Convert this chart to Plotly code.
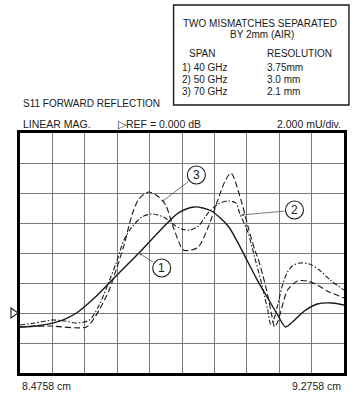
import plotly.graph_objects as go

# ---- data (x in cm, y in mU; REF line = 0) ----
x_start_cm = 8.4758
x_end_cm = 9.2758
cm_per_div = 0.08
mu_per_div = 2.0
y_bottom = -4.0
y_top = 12.0

# Curve 1: 40 GHz span (solid)
x1 = [8.4758, 8.5247, 8.5810, 8.6152, 8.6593, 8.6960, 8.7205, 8.7694, 8.8183, 8.8672,
      8.9064, 8.9480, 8.9896, 9.0140, 9.0385, 9.0630, 9.0874, 9.1119, 9.1314, 9.1486,
      9.1780, 9.2098, 9.2464, 9.2758]
y1 = [-0.93, -0.83, -0.47, 0.0, 1.0, 2.0, 2.67, 4.0, 5.4, 6.67,
      7.07, 6.8, 5.8, 4.67, 3.4, 2.13, 1.0, -0.13, -0.93, -0.6,
      0.13, 0.6, 0.67, 0.53]

# Curve 2: 50 GHz span (dash-dot)
x2 = [8.4758, 8.5125, 8.5565, 8.5859, 8.6152, 8.6471, 8.6715, 8.6960, 8.7131, 8.7327,
      8.7522, 8.7767, 8.8012, 8.8305, 8.8501, 8.8746, 8.8966, 8.9162, 8.9406, 8.9651,
      8.9896, 9.0091, 9.0189, 9.0385, 9.0556, 9.0703, 9.0801, 9.0874, 9.0948, 9.1021,
      9.1119, 9.1241, 9.1364, 9.1486, 9.1657, 9.1902, 9.2147, 9.2416, 9.2758]
y2 = [-0.8, -0.67, -0.47, -0.53, -0.67, -0.47, 0.53, 2.13, 3.33, 4.87,
      5.73, 6.4, 6.6, 6.4, 6.0, 5.6, 5.53, 5.8, 6.67, 7.27,
      7.47, 7.33, 6.6, 5.4, 3.67, 2.2, 1.07, 0.2, -0.73, -0.47,
      0.53, 1.87, 2.73, 3.13, 3.33, 3.27, 2.87, 2.2, 1.53]

# Curve 3: 70 GHz span (dashed)
x3 = [8.4758, 8.5492, 8.6397, 8.6593, 8.6715, 8.6960, 8.7131, 8.7327, 8.7522, 8.7694,
      8.7938, 8.8183, 8.8354, 8.8550, 8.8795, 8.8990, 8.9162, 8.9406, 8.9651, 8.9822,
      8.9969, 9.0214, 9.0385, 9.0556, 9.0630, 9.0752, 9.0874, 9.0972, 9.1046, 9.1119,
      9.1241, 9.1364, 9.1608, 9.1853, 9.2098, 9.2342, 9.2758]
y3 = [-0.93, -0.87, -0.93, -0.33, 0.2, 1.53, 2.87, 4.53, 6.53, 7.6,
      8.07, 7.73, 7.2, 5.67, 4.2, 4.2, 4.4, 5.73, 7.6, 8.8,
      9.33, 7.53, 5.8, 4.2, 3.67, 2.53, 1.2, -0.13, -0.93, -0.6,
      0.53, 1.53, 2.13, 2.13, 1.87, 1.47, 1.0]

span_labels = ["1) 40 GHz", "2) 50 GHz", "3) 70 GHz"]
resolution_labels = ["3.75mm", "3.0 mm", "2.1 mm"]

# ---- figure geometry (pixels) ----
W, H = 359, 398
L, R, T, B = 20, 347, 133, 373


def px(p):
    return (p - L) / (R - L)


def py(p):
    return (B - p) / (B - T)


FONT = "Liberation Sans, Arial, sans-serif"
INK = "#1a1a1a"

fig = go.Figure()
fig.add_trace(go.Scatter(x=x1, y=y1, mode="lines", line=dict(color=INK, width=1.4, shape="spline", smoothing=0.8),
                         showlegend=False, hoverinfo="skip"))
fig.add_trace(go.Scatter(x=x2, y=y2, mode="lines",
                         line=dict(color=INK, width=1.1, shape="spline", smoothing=0.8, dash="5px,2px,1.5px,2px"),
                         showlegend=False, hoverinfo="skip"))
fig.add_trace(go.Scatter(x=x3, y=y3, mode="lines",
                         line=dict(color=INK, width=1.1, shape="spline", smoothing=0.8, dash="6px,3px"),
                         showlegend=False, hoverinfo="skip"))

fig.update_xaxes(range=[x_start_cm, x_end_cm], tick0=x_start_cm, dtick=cm_per_div,
                 showgrid=True, gridcolor="#7a7a7a", gridwidth=1, zeroline=False,
                 showticklabels=False, ticks="", showline=True, mirror=True,
                 linecolor="black", linewidth=2.5, fixedrange=True)
fig.update_yaxes(range=[y_bottom, y_top], tick0=y_bottom, dtick=mu_per_div,
                 showgrid=True, gridcolor="#7a7a7a", gridwidth=1, zeroline=False,
                 showticklabels=False, ticks="", showline=True, mirror=True,
                 linecolor="black", linewidth=2.5, fixedrange=True)

shapes = []
# info box
shapes.append(dict(type="rect", xref="paper", yref="paper", x0=px(175), x1=px(352), y0=py(105), y1=py(5),
                   line=dict(color=INK, width=1.4), fillcolor="rgba(0,0,0,0)"))
# reference marker triangle at REF level
shapes.append(dict(type="path", xref="paper", yref="y", xsizemode="pixel", ysizemode="pixel",
                   xanchor=0, yanchor=0, path="M-9,5 L-2,0 L-9,-5 Z",
                   line=dict(color=INK, width=1.1), fillcolor="white"))
# numbered circles
circles = [(163, 268, "1"), (297, 210, "2"), (198, 175, "3")]
for cx, cy, _ in circles:
    shapes.append(dict(type="circle", xref="paper", yref="paper", xsizemode="pixel", ysizemode="pixel",
                       xanchor=px(cx), yanchor=py(cy), x0=-9, x1=9, y0=-9, y1=9,
                       line=dict(color=INK, width=1.1), fillcolor="white"))

ann = []


def text(s, x, y, size, xanchor="left"):
    ann.append(dict(text=s, xref="paper", yref="paper", x=px(x), y=py(y), xanchor=xanchor, yanchor="middle",
                    showarrow=False, font=dict(family=FONT, size=size, color=INK)))


text("TWO MISMATCHES SEPARATED", 262, 23, 10, "center")
text("BY 2mm (AIR)", 264, 35, 10, "center")
text("SPAN", 204, 53, 10, "center")
text("RESOLUTION", 267, 53, 10)
for i, (s, r) in enumerate(zip(span_labels, resolution_labels)):
    yy = 67 + i * 12.5
    text(s, 181, yy, 10)
    text(r, 267, yy, 10)

text("S11 FORWARD REFLECTION", 21, 103, 10)
text("LINEAR MAG.", 21, 124, 10.5)
text("\u25B7REF = 0.000 dB", 117, 124, 10.5)
text("2.000 mU/div.", 346, 124, 10.5, "right")
text("8.4758 cm", 20, 386, 10.5)
text("9.2758 cm", 346, 386, 10.5, "right")

for cx, cy, s in circles:
    text(s, cx, cy, 12, "center")

# leader arrows: (tip_x, tip_y, start_x, start_y)
arrows = [(140, 253, 155.5, 263), (243, 215, 288, 211), (163, 202, 191, 180.5)]
for tx, ty, sx, sy in arrows:
    ann.append(dict(text="", xref="paper", yref="paper", x=px(tx), y=py(ty), ax=sx - tx, ay=sy - ty,
                    axref="pixel", ayref="pixel", showarrow=True, arrowhead=2, arrowsize=0.7,
                    arrowwidth=0.8, arrowcolor="#555", standoff=0, startstandoff=0))

fig.update_layout(width=W, height=H, margin=dict(l=L, r=W - R, t=T, b=H - B, pad=0),
                  paper_bgcolor="white", plot_bgcolor="white", shapes=shapes, annotations=ann,
                  showlegend=False)

fig.write_html("out.html", config={"displayModeBar": False},
               post_script="document.body.style.margin='0';document.body.style.overflow='hidden';")
